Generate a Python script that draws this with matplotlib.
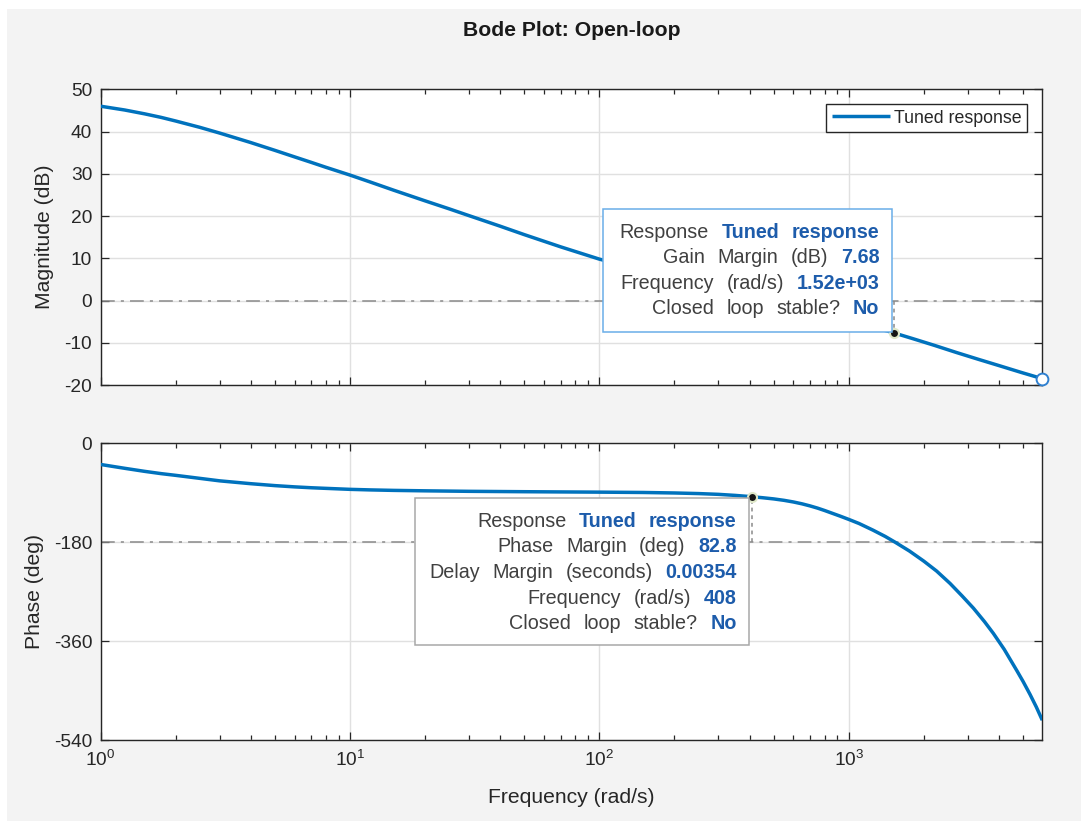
import matplotlib
matplotlib.use("Agg")
import matplotlib.pyplot as plt
from matplotlib.patches import Rectangle
from matplotlib.ticker import LogLocator, NullLocator, FixedLocator, NullFormatter

# ---------------- data ----------------
mag_freq = [1, 1.25, 1.5, 1.75, 2, 2.5, 3, 4, 5, 6, 7, 8, 10, 12, 15, 20, 25, 30,
            40, 50, 70, 100, 125, 150, 200, 250, 300, 400, 500, 600, 800, 1000,
            1250, 1520, 1800, 2200, 2700, 3300, 4000, 4900, 5970]
mag_db = [46.0, 45.1, 44.2, 43.35, 42.5, 41.0, 39.65, 37.4, 35.55, 34.0, 32.7, 31.55,
          29.7, 28.1, 26.1, 23.6, 21.7, 20.1, 17.6, 15.6, 12.7, 9.8, 8.3, 7.1, 5.2,
          3.8, 2.6, 0.8, -0.6, -1.8, -3.6, -5.0, -6.3, -7.68, -9.0, -10.6, -12.3,
          -13.9, -15.4, -17.0, -18.5]

ph_freq = [1, 1.25, 1.5, 1.75, 2, 2.5, 3, 4, 5, 6, 7, 8, 10, 12, 15, 20, 30, 50,
           70, 100, 150, 200, 250, 300, 350, 408, 450, 500, 550, 600, 650, 700,
           750, 800, 923, 1000, 1100, 1250, 1400, 1534, 1750, 2000, 2250, 2547,
           2850, 3160, 3500, 3800, 4200, 4716, 5000, 5330, 5650, 5970]
ph_deg = [-38.5, -45.5, -51.0, -55.2, -58.3, -63.8, -68.3, -73.5, -77.0, -79.3,
          -80.9, -82.0, -83.8, -84.8, -85.7, -86.5, -87.4, -88.1, -88.5, -88.9,
          -89.5, -90.4, -91.5, -92.9, -94.8, -97.2, -99.0, -101.2, -103.8, -106.8,
          -110.2, -114.0, -118.0, -122.3, -132.5, -138.5, -146.0, -158.0, -169.5,
          -180.0, -196.0, -214.5, -232.5, -255.0, -278.0, -300.0, -324.5, -346.0,
          -375.0, -413.5, -433.5, -457.0, -480.0, -504.0]

xlim = [1, 5970]
mag_ticks = [-20, -10, 0, 10, 20, 30, 40, 50]
ph_ticks = [-540, -360, -180, 0]

gm_freq, gm_db, gm_val = 1520, -7.68, "7.68"
pm_freq, pm_phase = 408, -97.2

series_name = "Tuned response"
title = "Bode Plot: Open-loop"

gain_tip = [("Response", series_name),
            ("Gain Margin (dB)", gm_val),
            ("Frequency (rad/s)", "1.52e+03"),
            ("Closed loop stable?", "No")]
phase_tip = [("Response", series_name),
             ("Phase Margin (deg)", "82.8"),
             ("Delay Margin (seconds)", "0.00354"),
             ("Frequency (rad/s)", "408"),
             ("Closed loop stable?", "No")]

# ---------------- styling ----------------
W, H = 1081, 821
plt.rcParams['font.family'] = ['Liberation Sans', 'DejaVu Sans']
plt.rcParams['mathtext.fontset'] = 'custom'
plt.rcParams['mathtext.rm'] = 'Liberation Sans'
plt.rcParams['mathtext.it'] = 'Liberation Sans'
plt.rcParams['mathtext.default'] = 'regular'
plt.rcParams['axes.unicode_minus'] = False

BLUE = '#0072BD'
DARK = '#262626'
GRID = '#e0e0e0'
REF = '#8a8a8a'
BG = '#f3f3f3'

fig = plt.figure(figsize=(W / 100, H / 100), dpi=100, facecolor='white')
fig.add_artist(Rectangle((7 / W, 0), 1 - 7 / W, 1 - 9 / H, transform=fig.transFigure,
                         facecolor=BG, edgecolor='none', zorder=-10))


def fx(x):
    return x / W


def fy(y):
    return 1 - y / H


ax1 = fig.add_axes([fx(100.5), fy(385), (1042.3 - 100.5) / W, (385 - 89.3) / H])
ax2 = fig.add_axes([fx(100.5), fy(740), (1042.3 - 100.5) / W, (740 - 443.3) / H])

for ax in (ax1, ax2):
    ax.set_facecolor('white')
    ax.set_xscale('log')
    ax.set_xlim(xlim)
    ax.xaxis.set_major_locator(LogLocator(base=10, numticks=10))
    ax.xaxis.set_minor_locator(LogLocator(base=10, subs=range(2, 10), numticks=20))
    ax.xaxis.set_minor_formatter(NullFormatter())
    ax.yaxis.set_minor_locator(NullLocator())
    ax.grid(True, which='major', color=GRID, linewidth=1.0, zorder=0)
    ax.set_axisbelow(True)
    for s in ax.spines.values():
        s.set_color(DARK)
        s.set_linewidth(1.0)
    ax.tick_params(which='both', direction='in', top=True, right=True,
                   color=DARK, labelcolor=DARK, labelsize=13.8, width=0.9)
    ax.tick_params(which='major', length=5.5)
    ax.tick_params(which='minor', length=3.3)
    ax.tick_params(axis='y', pad=6)
    ax.tick_params(axis='x', pad=7)

# magnitude
ax1.plot(mag_freq, mag_db, color=BLUE, lw=2.5, label=series_name, zorder=3,
         solid_capstyle='butt', solid_joinstyle='round')
ax1.set_ylim(-20, 50)
ax1.yaxis.set_major_locator(FixedLocator(mag_ticks))
ax1.tick_params(axis='x', labelbottom=False)
ax1.axhline(0, color=REF, lw=1.1, ls=(0, (9, 4, 2, 4)), zorder=2)
ax1.plot([gm_freq, gm_freq], [0, gm_db], color=REF, lw=1.1, ls=(0, (2.5, 2.5)), zorder=2)
ax1.plot([mag_freq[-1]], [mag_db[-1]], 'o', ms=8.5, mfc='white', mec='#2f80d0',
         mew=1.4, clip_on=False, zorder=6)
ax1.plot([gm_freq], [gm_db], 'o', ms=6.5, mfc='#151515', mec='#dfe8c8', mew=1.5,
         zorder=8, clip_on=False)
ax1.set_ylabel('Magnitude (dB)', fontsize=15.2, color=DARK)
ax1.yaxis.label.set_va('center')
ax1.yaxis.set_label_coords((44 - 100.5) / 941.8, 0.5)

leg = ax1.legend(loc='upper right', bbox_to_anchor=((1026.7 - 100.5) / 941.8, (385 - 104.3) / 295.7),
                 borderaxespad=0, fontsize=12.8, handlelength=3.3, handletextpad=0.2,
                 borderpad=0.3, fancybox=False, framealpha=1, edgecolor=DARK)
leg.get_frame().set_linewidth(1.0)
for t in leg.get_texts():
    t.set_color(DARK)

# phase
ax2.plot(ph_freq, ph_deg, color=BLUE, lw=2.5, zorder=3, solid_capstyle='butt',
         solid_joinstyle='round')
ax2.set_ylim(-540, 0)
ax2.yaxis.set_major_locator(FixedLocator(ph_ticks))
ax2.axhline(-180, color=REF, lw=1.1, ls=(0, (9, 4, 2, 4)), zorder=2)
ax2.plot([pm_freq, pm_freq], [-180, pm_phase], color=REF, lw=1.1, ls=(0, (2.5, 2.5)), zorder=2)
ax2.plot([pm_freq], [pm_phase], 'o', ms=6.5, mfc='#151515', mec='#dfe8c8', mew=1.5,
         zorder=8, clip_on=False)
ax2.set_ylabel('Phase (deg)', fontsize=15.2, color=DARK)
ax2.yaxis.label.set_va('center')
ax2.yaxis.set_label_coords((34 - 100.5) / 941.8, 0.5)
ax2.set_xlabel('Frequency (rad/s)', fontsize=15.2, color=DARK)
ax2.xaxis.label.set_va('center')
ax2.xaxis.set_label_coords(0.5, (740 - 797) / 296.7)

fig.text(fx(571.4), fy(30), title, ha='center', va='center', fontsize=15.2,
         fontweight='bold', color='#1a1a1a')

# ---------------- data tips ----------------
renderer = fig.canvas.get_renderer()
TIPFS = 14.2
LAB = '#404040'
VAL = '#1d5cab'
GAP = 12.5


def draw_tip(lines, box, x_right, baseline0, step, edge):
    x0, y0, x1, y1 = box
    fig.add_artist(Rectangle((fx(x0), fy(y1)), (x1 - x0) / W, (y1 - y0) / H,
                             transform=fig.transFigure, facecolor='white',
                             edgecolor=edge, linewidth=1.1, zorder=5))
    for i, (lab, val) in enumerate(lines):
        yb = baseline0 + i * step
        tokens = [(w, False) for w in lab.split(' ')] + [(w, True) for w in val.split(' ')]
        x = x_right
        for word, bold in reversed(tokens):
            t = fig.text(fx(x), fy(yb), word, ha='right', va='baseline', fontsize=TIPFS,
                         fontweight='bold' if bold else 'normal',
                         color=VAL if bold else LAB, zorder=6)
            w = t.get_window_extent(renderer).width
            x -= w + GAP


draw_tip(gain_tip, (603.3, 209.3, 892.3, 331.7), 879.3, 237.7, 25.6, '#6aaee8')
draw_tip(phase_tip, (415.0, 498.3, 749.3, 645.0), 736.7, 526.7, 25.6, '#a8a8a8')

fig.savefig('out.png', dpi=100, facecolor=fig.get_facecolor())
